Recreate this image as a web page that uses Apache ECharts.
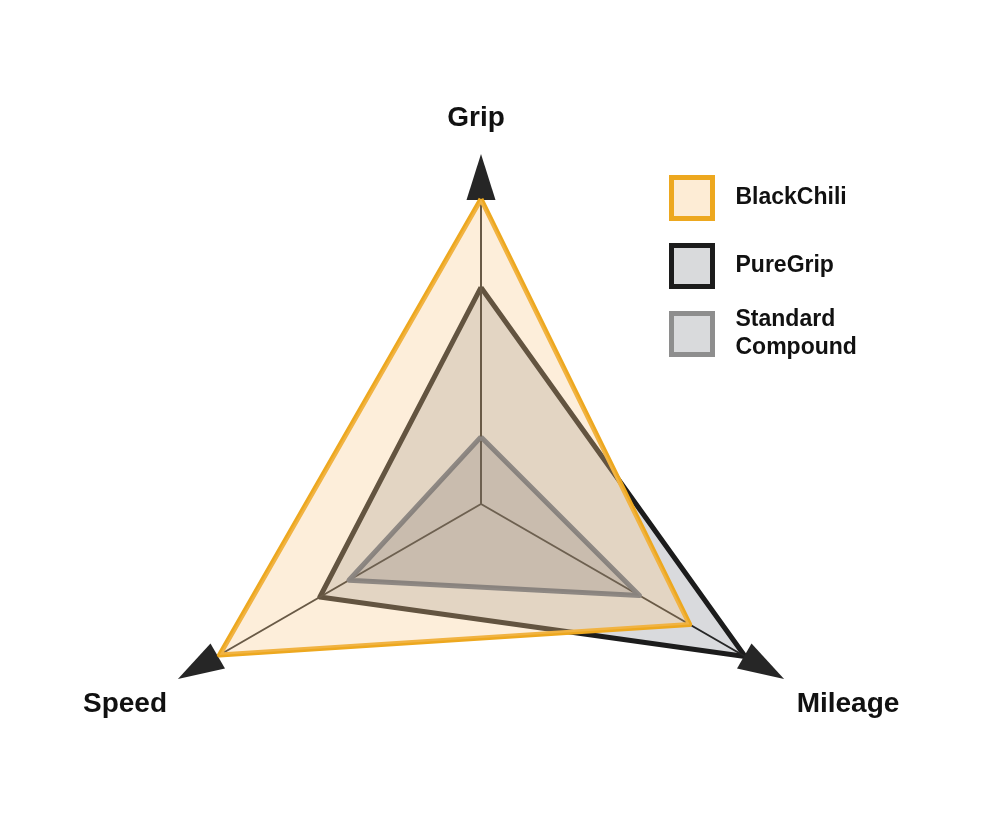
<!DOCTYPE html>
<html>
<head>
<meta charset="utf-8">
<script src="https://cdn.jsdelivr.net/npm/echarts@6/dist/echarts.min.js"></script>
<style>
  html, body { margin: 0; padding: 0; background: #fff; }
  #chart { width: 1000px; height: 832px; }
</style>
</head>
<body>
<div id="chart"></div>
<script>
// axes, counter-clockwise from the top
var indicators = ['Grip', 'Speed', 'Mileage'];
var seriesNames = ['BlackChili', 'PureGrip', 'Standard Compound'];
var blackChili = [100, 99, 79];
var pureGrip = [71, 61, 100];
var standardCompound = [22, 50, 60];

var FONT = '"Liberation Sans", Arial, sans-serif';

var myChart = echarts.init(document.getElementById('chart'));

// legend swatch styles and where each entry sits
var legendStyles = [
  { color: '#fdecd5', borderColor: '#eda81f', top: 170 },
  { color: '#d9dadc', borderColor: '#1c1c1c', top: 238 },
  { color: '#d9dadc', borderColor: '#8e8e8e', top: 301 }
];

// name labels at the axis ends
var namePos = [[476, 118], [125, 704], [848, 704]];

var option = {
  backgroundColor: '#ffffff',
  animation: false,
  radar: {
    center: [481, 504],
    radius: 305,
    startAngle: 90,
    shape: 'polygon',
    splitNumber: 1,
    z: 1.5,
    indicator: indicators.map(function (n) { return { name: n, min: 0, max: 100 }; }),
    axisName: { show: false },
    splitLine: { show: false },
    splitArea: { show: false },
    axisTick: { show: false },
    axisLabel: { show: false },
    axisLine: {
      show: true,
      symbol: ['none', 'triangle'],
      symbolSize: [29, 46],
      symbolOffset: [0, 22],
      lineStyle: { color: '#262626', width: 2 }
    }
  },
  legend: seriesNames.map(function (name, i) {
    return {
      orient: 'vertical',
      left: 664,
      top: legendStyles[i].top,
      icon: 'rect',
      itemWidth: 41,
      itemHeight: 41,
      selectedMode: false,
      data: [{
        name: name,
        itemStyle: {
          color: legendStyles[i].color,
          borderColor: legendStyles[i].borderColor,
          borderWidth: 5
        }
      }],
      formatter: function (n) { return n.replace(' ', '\n'); },
      textStyle: {
        fontFamily: FONT,
        fontWeight: 'bold',
        fontSize: 23,
        lineHeight: 28,
        color: '#111',
        padding: [0, 0, 0, 18]
      }
    };
  }),
  graphic: indicators.map(function (n, i) {
    return {
      type: 'text',
      x: namePos[i][0],
      y: namePos[i][1],
      style: {
        text: n,
        fontFamily: FONT,
        fontWeight: 'bold',
        fontSize: 28,
        fill: '#111',
        align: 'center',
        verticalAlign: 'middle'
      }
    };
  }),
  series: [
    // PureGrip fill, then its outline on top so the opaque fill doesn't eat half the stroke
    {
      type: 'radar',
      name: 'PureGrip',
      z: 1,
      symbol: 'none',
      lineStyle: { width: 0 },
      areaStyle: { color: '#d9dadd', opacity: 1 },
      data: [{ name: 'PureGrip', value: pureGrip }]
    },
    {
      type: 'radar',
      name: 'PureGrip',
      z: 1.2,
      symbol: 'none',
      lineStyle: { color: '#1c1c1c', width: 5 },
      data: [{ name: 'PureGrip', value: pureGrip }]
    },
    {
      type: 'radar',
      name: 'BlackChili',
      z: 2,
      symbol: 'none',
      lineStyle: { color: '#eda81f', width: 5 },
      areaStyle: { color: 'rgb(249,201,141)', opacity: 0.32 },
      data: [{ name: 'BlackChili', value: blackChili }]
    },
    {
      type: 'radar',
      name: 'Standard Compound',
      z: 2,
      symbol: 'none',
      lineStyle: { color: '#8e8883', width: 5 },
      areaStyle: { color: 'rgb(123,114,113)', opacity: 0.25 },
      data: [{ name: 'Standard Compound', value: standardCompound }]
    }
  ]
};

option && myChart.setOption(option);
</script>
</body>
</html>
